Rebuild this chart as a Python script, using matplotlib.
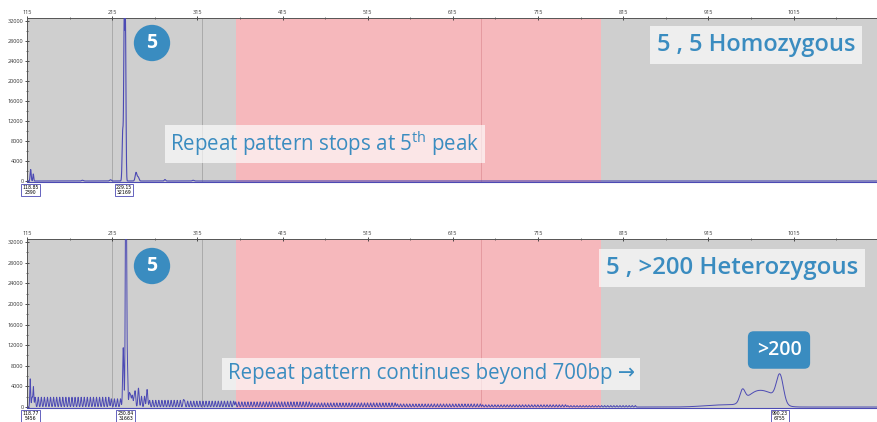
#!/usr/bin/env python3
# -*- coding: utf-8 -*-

import numpy as np
import matplotlib
matplotlib.use("Agg")
import matplotlib.pyplot as plt
from matplotlib.ticker import MultipleLocator, FixedLocator

plt.rcParams['font.family'] = ['Open Sans', 'DejaVu Sans']
plt.rcParams['mathtext.fontset'] = 'custom'
plt.rcParams['mathtext.rm'] = 'Open Sans'

# x axis (size scale) and shaded regions
x_min, x_max = 115, 1113
x_major = [115, 215, 315, 415, 515, 615, 715, 815, 915, 1015, 1115]
y_major = [0, 4000, 8000, 12000, 16000, 20000, 24000, 28000, 32000]
pink_region = (360, 789)
gray_lines = [215, 321]
pink_lines = [648]

# top trace: peak positions, heights, widths (sigma)
top_pos = [119.3, 122.4, 180, 213, 227.4, 229.15, 230.6, 243, 245.5, 277, 310]
top_h = [2300, 1400, 150, 250, 10000, 32169, 30500, 1700, 800, 300, 150]
top_w = [0.6, 0.5, 1.0, 1.0, 0.7, 0.6, 0.6, 1.0, 1.0, 0.8, 1.0]
top_labels = [(118.85, "118.85\n2390"), (229.15, "229.15\n32169")]

# bottom trace: main peaks
bot_pos = [118.77, 122.5, 228.0, 230.84, 231.6, 233.0, 236.5, 241, 246, 256]
bot_h = [5456, 3800, 11500, 31663, 30500, 6600, 2300, 2100, 1600, 3400]
bot_w = [0.5, 0.5, 0.7, 0.6, 0.6, 0.5, 0.9, 0.9, 0.9, 0.8]
# repeat ladder segments (start, end, height)
ladder_start = [121, 214, 235, 259, 300, 360, 450, 550, 650, 750]
ladder_end = [214, 226, 255, 300, 360, 450, 550, 650, 750, 830]
ladder_h = [1900, 1600, 2100, 1300, 1150, 1000, 800, 600, 430, 280]
ladder_spacing = 3.6
# expanded allele hump
hump_pos = [930, 955, 972, 990, 999]
hump_h = [400, 2300, 2800, 1500, 5200]
hump_w = [20, 3, 12, 10, 4]
bot_labels = [(118.77, "118.77\n5456"), (230.84, "230.84\n31663"), (999, "990.23\n6755")]

W, H = 877, 422
BLUE = "#3a8cc0"
TRACE = "#4c4ab4"


def trace(xs, pos, h, w):
    y = np.zeros_like(xs)
    for p, a, s in zip(pos, h, w):
        y += a * np.exp(-0.5 * ((xs - p) / s) ** 2)
    return y


def style_axes(ax, ylim):
    ax.set_facecolor("#cfcfcf")
    ax.set_xlim(x_min, x_max)
    ax.set_ylim(*ylim)
    ax.axvspan(*pink_region, color="#f6b8bc", lw=0, zorder=0)
    for v in gray_lines:
        ax.axvline(v, color="#aaaaaa", lw=0.7, zorder=1)
    for v in pink_lines:
        ax.axvline(v, color="#e59aa0", lw=0.7, zorder=1)
    ax.xaxis.tick_top()
    ax.xaxis.set_major_locator(FixedLocator(x_major))
    ax.xaxis.set_minor_locator(FixedLocator([v + 50 for v in x_major]))
    ax.yaxis.set_major_locator(FixedLocator(y_major))
    ax.yaxis.set_minor_locator(MultipleLocator(2000))
    ax.tick_params(axis="both", which="major", labelsize=4, length=3,
                   width=0.6, direction="inout", pad=1, colors="#333333")
    ax.tick_params(axis="both", which="minor", length=2, width=0.5,
                   direction="inout", colors="#333333")
    for s in ["top", "left"]:
        ax.spines[s].set_color("#555555")
        ax.spines[s].set_linewidth(0.7)
    ax.spines["right"].set_visible(False)
    ax.spines["bottom"].set_color(TRACE)
    ax.spines["bottom"].set_linewidth(0.8)


def peak_box(ax, x, txt):
    ax.annotate(txt, xy=(x, 0), xycoords="data", xytext=(0, -3),
                textcoords="offset points", ha="center", va="top",
                fontsize=3.3, family="DejaVu Sans", annotation_clip=False,
                linespacing=1.0,
                bbox=dict(boxstyle="square,pad=0.25", fc="white",
                          ec=TRACE, lw=0.6))


def fig_xy(x, y):
    return x / W, 1 - y / H


def text_box(fig, x, y, s, size, weight="normal", pad=0.35):
    fig.text(*fig_xy(x, y), s, ha="center", va="center", fontsize=size,
             color=BLUE, fontweight=weight,
             bbox=dict(boxstyle="square,pad=%s" % pad, fc="white", ec="none",
                       alpha=0.65))


fig = plt.figure(figsize=(W / 100, H / 100), dpi=100)
fig.patch.set_facecolor("white")

ax1 = fig.add_axes([27 / W, 1 - 182 / H, 1 - 27 / W, 164 / H])
ax2 = fig.add_axes([27 / W, 1 - 408 / H, 1 - 27 / W, 169 / H])
style_axes(ax1, (-200, 32600))
style_axes(ax2, (-190, 32580))

xs = np.linspace(x_min, x_max, 14000)
y_top = trace(xs, top_pos, top_h, top_w)
ax1.plot(xs, y_top, color=TRACE, lw=0.8, zorder=3)

lad_pos, lad_h = [], []
for a, b, hh in zip(ladder_start, ladder_end, ladder_h):
    for p in np.arange(a, b, ladder_spacing):
        lad_pos.append(p)
        lad_h.append(hh)
y_bot = trace(xs, bot_pos, bot_h, bot_w)
y_bot += trace(xs, lad_pos, lad_h, [0.65] * len(lad_pos))
y_bot += trace(xs, hump_pos, hump_h, hump_w)
ax2.plot(xs, y_bot, color=TRACE, lw=0.7, zorder=3)

for x, t in top_labels:
    peak_box(ax1, x, t)
for x, t in bot_labels:
    peak_box(ax2, x, t)

# badges "5"
for yy in (43, 266):
    fig.text(*fig_xy(152, yy), "5", ha="center", va="center", fontsize=14,
             color="white", fontweight="bold",
             bbox=dict(boxstyle="circle,pad=0.42", fc=BLUE, ec="none"))

text_box(fig, 756, 45, "5 , 5 Homozygous", 17, "semibold", 0.3)
text_box(fig, 732, 268, "5 , >200 Heterozygous", 17.3, "semibold", 0.3)
text_box(fig, 325, 144, "Repeat pattern stops at 5$^{\\rm th}$ peak", 14.8, pad=0.25)
text_box(fig, 431, 374, "Repeat pattern continues beyond 700bp \u2192", 14.8, pad=0.25)

fig.text(*fig_xy(779, 350), ">200", ha="center", va="center", fontsize=14,
         color="white", fontweight="semibold",
         bbox=dict(boxstyle="round,pad=0.45,rounding_size=0.3", fc=BLUE,
                   ec="none"))

fig.savefig("out.png", dpi=100)
